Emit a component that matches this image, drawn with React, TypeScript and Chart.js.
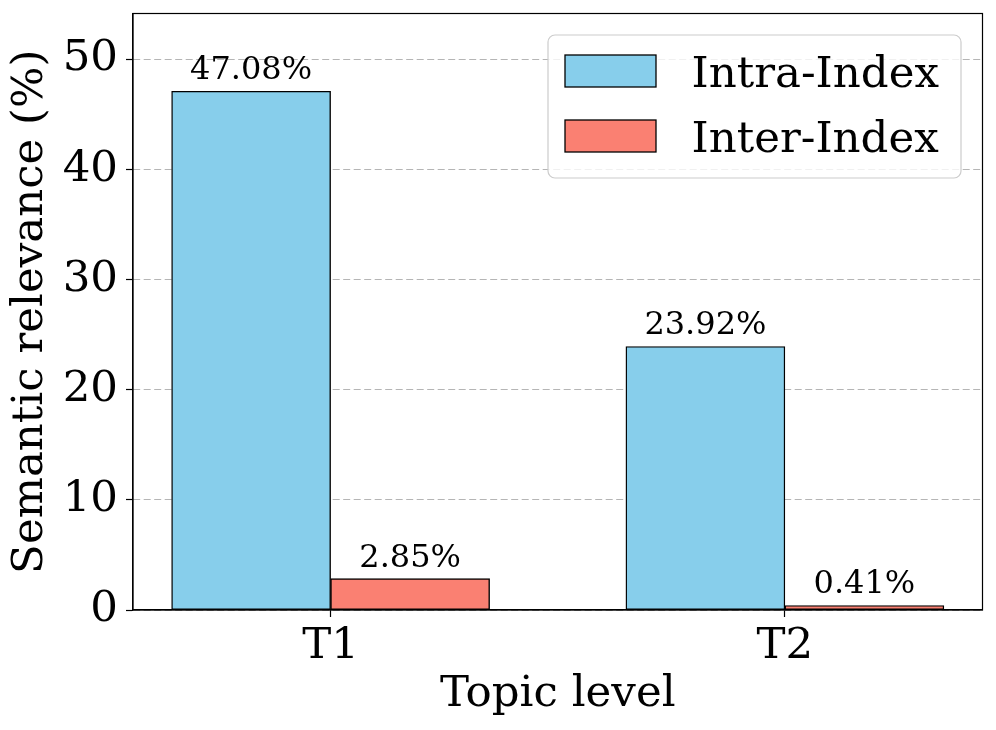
import React, { useEffect, useRef } from "react";
import { Chart, registerables } from "chart.js";

Chart.register(...registerables);

const categories = ["T1", "T2"];
const seriesNames = ["Intra-Index", "Inter-Index"];
const intraValues = [47.08, 23.92];
const interValues = [2.85, 0.41];
const yTicks = [0, 10, 20, 30, 40, 50];

const FONT = "DejaVu Serif";
const BIG = 43.5;
const SMALL = 32;
const BAR_W = 0.35;
const COLORS = ["#87CEEB", "#FA8072"];

const valueLabelPlugin = {
  id: "valueLabels",
  afterDatasetsDraw(chart: any) {
    const ctx = chart.ctx;
    ctx.save();
    ctx.font = `${SMALL}px ${FONT}`;
    ctx.fillStyle = "#000";
    ctx.textAlign = "center";
    ctx.textBaseline = "alphabetic";
    chart.data.datasets.forEach((ds: any, di: number) => {
      const meta = chart.getDatasetMeta(di);
      meta.data.forEach((el: any, i: number) => {
        const v = ds.data[i].y;
        ctx.fillText(v.toFixed(2) + "%", el.x, el.y - 12);
      });
    });
    ctx.restore();
  },
};

const framePlugin = {
  id: "frame",
  afterDatasetsDraw(chart: any) {
    const { ctx, chartArea: a } = chart;
    ctx.save();
    ctx.strokeStyle = "#000";
    ctx.lineWidth = 1.2;
    ctx.strokeRect(a.left, a.top, a.right - a.left, a.bottom - a.top);
    ctx.restore();
  },
};

const legendPlugin = {
  id: "innerLegend",
  afterDraw(chart: any) {
    const { ctx, chartArea: a } = chart;
    const boxR = a.right - 21.5;
    const boxT = a.top + 21.5;
    const boxW = 413;
    const boxH = 143;
    const boxL = boxR - boxW;
    ctx.save();
    ctx.beginPath();
    (ctx as any).roundRect(boxL, boxT, boxW, boxH, 7);
    ctx.fillStyle = "rgba(255,255,255,0.8)";
    ctx.fill();
    ctx.strokeStyle = "#cccccc";
    ctx.lineWidth = 1.2;
    ctx.stroke();
    ctx.font = `${BIG}px ${FONT}`;
    ctx.textAlign = "left";
    ctx.textBaseline = "alphabetic";
    chart.data.datasets.forEach((ds: any, i: number) => {
      const cy = boxT + 36 + i * 65;
      const px = boxL + 17;
      ctx.fillStyle = ds.backgroundColor;
      ctx.fillRect(px, cy - 16, 91, 32);
      ctx.strokeStyle = "#000";
      ctx.lineWidth = 1.3;
      ctx.strokeRect(px, cy - 16, 91, 32);
      ctx.fillStyle = "#000";
      ctx.fillText(ds.label, boxL + 143.5, cy + 15.8);
    });
    ctx.restore();
  },
};

export default function App() {
  const ref = useRef<HTMLCanvasElement>(null);
  useEffect(() => {
    if (!ref.current) return;
    const makeData = (vals: number[], offset: number) =>
      vals.map((v, i) => ({ x: i + offset, y: v }));
    const chart = new Chart(ref.current, {
      type: "bar",
      data: {
        datasets: [
          {
            label: seriesNames[0],
            data: makeData(intraValues, -BAR_W / 2),
            backgroundColor: COLORS[0],
            borderColor: "#000",
            borderWidth: 1.4,
            borderSkipped: false,
            grouped: false,
            categoryPercentage: 1,
            barPercentage: 1,
          } as any,
          {
            label: seriesNames[1],
            data: makeData(interValues, BAR_W / 2),
            backgroundColor: COLORS[1],
            borderColor: "#000",
            borderWidth: 1.4,
            borderSkipped: false,
            grouped: false,
            categoryPercentage: 1,
            barPercentage: 1,
          } as any,
        ],
      },
      options: {
        animation: false,
        responsive: true,
        maintainAspectRatio: false,
        layout: { padding: { top: 13.5, right: 13.5, left: 0, bottom: 0 } },
        plugins: {
          legend: { display: false },
          tooltip: { enabled: false },
        },
        scales: {
          x: {
            type: "linear",
            min: -0.435,
            max: 1.435,
            offset: false,
            afterFit: (s: any) => {
              s.height = 120;
              s.paddingLeft = 0;
              s.paddingRight = 0;
            },
            afterBuildTicks: (s: any) => {
              s.ticks = categories.map((_, i) => ({ value: i }));
            },
            ticks: {
              callback: (v: any) => categories[Math.round(Number(v))] ?? "",
              font: { family: FONT, size: BIG },
              color: "#000",
              padding: 4,
              maxRotation: 0,
              autoSkip: false,
            },
            grid: {
              offset: false,
              drawOnChartArea: false,
              drawTicks: true,
              tickLength: 7,
              tickColor: "#000",
              tickWidth: 1.2,
            },
            border: { display: true, color: "#000", width: 1.2 },
            title: {
              display: true,
              text: "Topic level",
              font: { family: FONT, size: BIG },
              color: "#000",
              padding: { top: 0, bottom: 9 },
            },
          },
          y: {
            type: "linear",
            min: 0,
            max: 54.14,
            afterFit: (s: any) => {
              s.width = 133;
              s.paddingTop = 0;
              s.paddingBottom = 0;
            },
            afterBuildTicks: (s: any) => {
              s.ticks = yTicks.map((v) => ({ value: v }));
            },
            ticks: {
              font: { family: FONT, size: BIG },
              color: "#000",
              padding: 8,
            },
            grid: {
              color: "rgba(150,150,150,0.7)",
              lineWidth: 1,
              tickBorderDash: [],
              tickLength: 7,
              tickColor: "#000",
              tickWidth: 1.2,
            } as any,
            border: { display: true, color: "#000", width: 1.2, dash: [7, 3.5] },
            title: {
              display: true,
              text: "Semantic relevance (%)",
              font: { family: FONT, size: BIG },
              color: "#000",
              padding: { top: 5, bottom: 0 },
            },
          },
        },
      },
      plugins: [valueLabelPlugin, framePlugin, legendPlugin],
    });
    return () => chart.destroy();
  }, []);
  return (
    <div
      style={{
        position: "fixed",
        left: 0,
        top: 0,
        width: 996,
        height: 730,
        background: "#fff",
      }}
    >
      <canvas ref={ref} />
    </div>
  );
}
